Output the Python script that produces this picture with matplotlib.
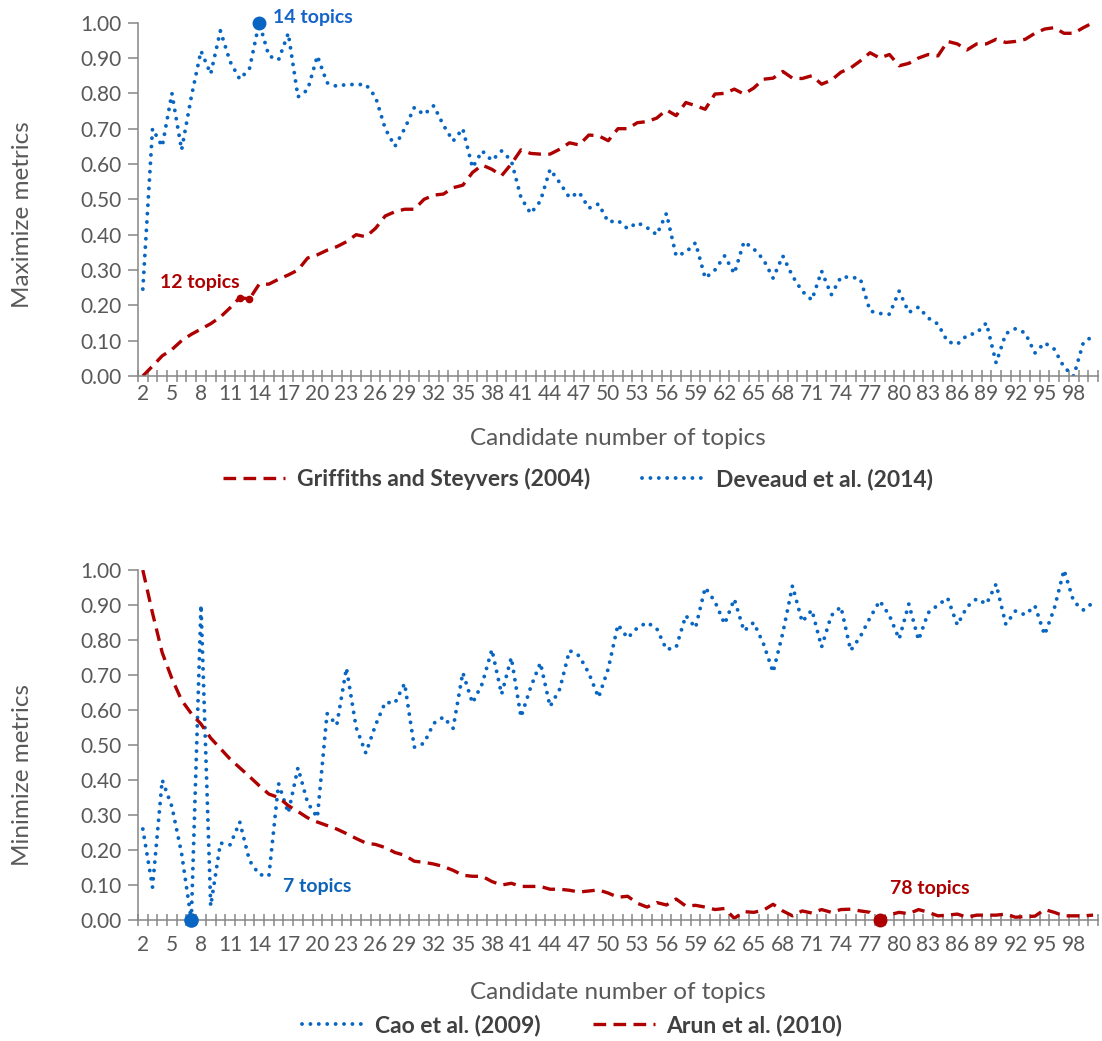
import numpy as np
import matplotlib
matplotlib.use("Agg")
import matplotlib.pyplot as plt

plt.rcParams['font.family'] = ['Lato', 'DejaVu Sans']

# Candidate numbers of topics (x categories)
topics = list(range(2, 101))
tick_topics = list(range(2, 99, 3))

# Maximize metrics (normalised)
griffiths = [
    0.00, 0.028, 0.057, 0.075, 0.10, 0.118, 0.133, 0.148, 0.167, 0.193,
    0.222, 0.218, 0.26, 0.26, 0.274, 0.286, 0.30, 0.334, 0.343, 0.356,
    0.366, 0.38, 0.40, 0.394, 0.418, 0.453, 0.465, 0.472, 0.472, 0.50,
    0.512, 0.515, 0.533, 0.54, 0.576, 0.597, 0.585, 0.567, 0.60, 0.64,
    0.63, 0.628, 0.628, 0.642, 0.66, 0.654, 0.682, 0.68, 0.666, 0.70,
    0.70, 0.717, 0.72, 0.73, 0.753, 0.737, 0.774, 0.765, 0.755, 0.798,
    0.80, 0.812, 0.798, 0.815, 0.84, 0.843, 0.862, 0.843, 0.842, 0.85,
    0.826, 0.837, 0.86, 0.872, 0.892, 0.915, 0.90, 0.91, 0.878, 0.885,
    0.90, 0.91, 0.906, 0.947, 0.94, 0.923, 0.94, 0.94, 0.953, 0.944,
    0.947, 0.953, 0.97, 0.982, 0.986, 0.97, 0.97, 0.986, 1.00,
]
deveaud = [
    0.246, 0.70, 0.65, 0.80, 0.64, 0.79, 0.92, 0.855, 0.977, 0.89,
    0.84, 0.87, 1.00, 0.906, 0.895, 0.97, 0.79, 0.81, 0.906, 0.83,
    0.82, 0.825, 0.825, 0.825, 0.79, 0.70, 0.65, 0.70, 0.76, 0.74,
    0.765, 0.71, 0.665, 0.70, 0.59, 0.637, 0.61, 0.637, 0.61, 0.505,
    0.46, 0.495, 0.585, 0.547, 0.505, 0.52, 0.475, 0.487, 0.436, 0.44,
    0.417, 0.434, 0.42, 0.40, 0.46, 0.34, 0.35, 0.377, 0.277, 0.30,
    0.34, 0.29, 0.38, 0.36, 0.33, 0.277, 0.34, 0.283, 0.24, 0.215,
    0.297, 0.23, 0.28, 0.28, 0.275, 0.184, 0.177, 0.175, 0.24, 0.18,
    0.195, 0.164, 0.147, 0.097, 0.09, 0.115, 0.122, 0.15, 0.037, 0.12,
    0.134, 0.122, 0.065, 0.094, 0.076, 0.025, 0.00, 0.095, 0.113,
]

# Minimize metrics (normalised)
cao = [
    0.26, 0.094, 0.40, 0.324, 0.19, 0.00, 0.90, 0.04, 0.22, 0.215,
    0.28, 0.17, 0.13, 0.126, 0.39, 0.306, 0.435, 0.335, 0.293, 0.59,
    0.557, 0.72, 0.55, 0.477, 0.557, 0.622, 0.62, 0.676, 0.494, 0.505,
    0.562, 0.58, 0.548, 0.707, 0.62, 0.675, 0.773, 0.645, 0.75, 0.58,
    0.665, 0.735, 0.61, 0.66, 0.77, 0.755, 0.705, 0.636, 0.718, 0.844,
    0.806, 0.835, 0.85, 0.833, 0.773, 0.779, 0.87, 0.835, 0.95, 0.91,
    0.846, 0.917, 0.826, 0.85, 0.79, 0.708, 0.82, 0.955, 0.852, 0.886,
    0.78, 0.87, 0.895, 0.77, 0.81, 0.864, 0.912, 0.87, 0.803, 0.903,
    0.80, 0.878, 0.90, 0.92, 0.843, 0.895, 0.918, 0.903, 0.96, 0.845,
    0.883, 0.872, 0.898, 0.815, 0.89, 1.00, 0.91, 0.886, 0.907,
]
arun = [
    1.00, 0.877, 0.764, 0.69, 0.628, 0.59, 0.56, 0.52, 0.49, 0.46,
    0.435, 0.41, 0.384, 0.36, 0.35, 0.327, 0.31, 0.292, 0.28, 0.27,
    0.26, 0.247, 0.233, 0.22, 0.216, 0.207, 0.193, 0.185, 0.168, 0.165,
    0.16, 0.153, 0.142, 0.128, 0.125, 0.125, 0.11, 0.10, 0.105, 0.096,
    0.096, 0.096, 0.088, 0.088, 0.085, 0.08, 0.083, 0.086, 0.077, 0.065,
    0.068, 0.048, 0.037, 0.05, 0.043, 0.06, 0.04, 0.042, 0.037, 0.03,
    0.033, 0.005, 0.024, 0.022, 0.028, 0.045, 0.026, 0.012, 0.026, 0.02,
    0.03, 0.022, 0.03, 0.031, 0.026, 0.022, 0.00, 0.015, 0.022, 0.018,
    0.03, 0.022, 0.012, 0.014, 0.017, 0.008, 0.014, 0.014, 0.014, 0.017,
    0.008, 0.01, 0.011, 0.03, 0.022, 0.012, 0.012, 0.012, 0.014,
]

RED = '#AE0000'
BLUE = '#0866C2'
GRAY = '#868686'
TXT = '#595959'

dotted = dict(color=BLUE, lw=2.8, linestyle=(0, (0.01, 2.15)),
              dash_capstyle='round', solid_capstyle='round')
dashed = dict(color=RED, lw=2.4, linestyle=(0, (3.8, 2.2)), dash_capstyle='butt')

fig = plt.figure(figsize=(11.02, 10.41), dpi=100, facecolor='white')
ax1 = fig.add_axes([0.1252, 0.6388, 0.8711, 0.3394])
ax2 = fig.add_axes([0.1252, 0.1162, 0.8711, 0.3362])


def style_axes(ax, ylabel, ylabel_y, xlabel_y, xpad):
    ax.set_xlim(1.5, 100.5)
    ax.set_ylim(0, 1)
    for s in ('top', 'right'):
        ax.spines[s].set_visible(False)
    for s in ('left', 'bottom'):
        ax.spines[s].set_color(GRAY)
        ax.spines[s].set_linewidth(1.1)
    yt = np.round(np.arange(0, 1.001, 0.1), 2)
    ax.set_yticks(yt)
    ax.set_yticklabels([f"{v:.2f}" for v in yt])
    ax.tick_params(axis='y', direction='out', length=7, width=1.1, color=GRAY,
                   labelsize=15, labelcolor=TXT, pad=5)
    ax.set_xticks(tick_topics)
    ax.set_xticklabels([str(t) for t in tick_topics])
    ax.tick_params(axis='x', which='major', length=0, labelsize=15,
                   labelcolor=TXT, pad=xpad)
    ax.set_xticks(np.arange(1.5, 100.6, 1.0), minor=True)
    ax.tick_params(axis='x', which='minor', direction='inout', length=8.6,
                   width=1.1, color=GRAY)
    ax.set_ylabel(ylabel, fontsize=17.5, color=TXT, ha='center', va='center')
    ax.yaxis.set_label_coords(-0.1198, ylabel_y)
    ax.set_xlabel('Candidate number of topics', fontsize=17.5, color=TXT,
                  ha='center', va='center')
    ax.xaxis.set_label_coords(0.5, xlabel_y)


# Top panel: metrics to maximise
l_g, = ax1.plot(topics, griffiths, label='Griffiths and Steyvers (2004)', **dashed)
l_d, = ax1.plot(topics, deveaud, label='Deveaud et al. (2014)', **dotted)
style_axes(ax1, 'Maximize metrics', 0.456, -0.1756, 6)

i12 = topics.index(12)
ax1.plot(topics[i12:i12 + 2], griffiths[i12:i12 + 2], 'o', color=RED, ms=4.5, zorder=5)
ax1.text(3.75, 0.266, '12 topics', color=RED, fontsize=14, fontweight='bold',
         va='center', ha='left')
i14 = topics.index(14)
ax1.plot(14, deveaud[i14], 'o', color=BLUE, ms=9, zorder=5, clip_on=False)
ax1.text(15.4, 1.014, '14 topics', color='#1565C8', fontsize=14, fontweight='bold',
         va='center', ha='left', clip_on=False)

fig.legend([l_g, l_d], [l_g.get_label(), l_d.get_label()], loc='center',
           bbox_to_anchor=(578 / 1102, 1 - 479 / 1041), ncol=2, frameon=False,
           prop={'size': 16.5, 'weight': 'bold'}, labelcolor='#404040',
           handlelength=2.7, handletextpad=0.5, columnspacing=2.3)

# Bottom panel: metrics to minimise
l_c, = ax2.plot(topics, cao, label='Cao et al. (2009)', **dotted)
l_a, = ax2.plot(topics, arun, label='Arun et al. (2010)', **dashed)
style_axes(ax2, 'Minimize metrics', 0.415, -0.206, 10.5)

i7 = topics.index(7)
ax2.plot(7, cao[i7], 'o', color=BLUE, ms=9.5, zorder=5, clip_on=False)
ax2.text(16.5, 0.097, '7 topics', color='#0E63B8', fontsize=14, fontweight='bold',
         va='center', ha='left')
i78 = topics.index(78)
ax2.plot(78, arun[i78], 'o', color=RED, ms=9, zorder=5, clip_on=False)
ax2.text(79.1, 0.091, '78 topics', color=RED, fontsize=14, fontweight='bold',
         va='center', ha='left')

fig.legend([l_c, l_a], [l_c.get_label(), l_a.get_label()], loc='center',
           bbox_to_anchor=(572 / 1102, 1 - 1025 / 1041), ncol=2, frameon=False,
           prop={'size': 16.5, 'weight': 'bold'}, labelcolor='#404040',
           handlelength=2.7, handletextpad=0.5, columnspacing=2.3)

fig.savefig('out.png', dpi=100, facecolor='white')
